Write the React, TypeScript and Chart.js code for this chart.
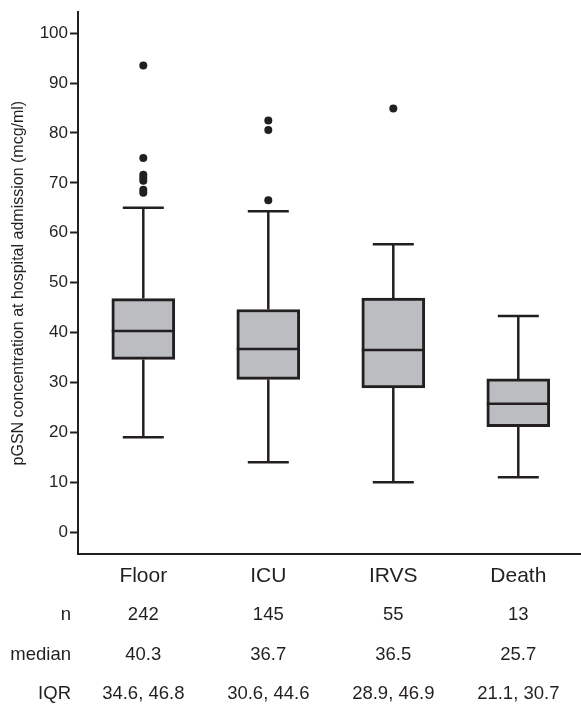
import React, { useEffect, useRef } from 'react';
import { Chart, registerables } from 'chart.js';

Chart.register(...registerables);

// ---- data ----
const categories = ['Floor', 'ICU', 'IRVS', 'Death'];
const nCounts = [242, 145, 55, 13];
const medians = [40.3, 36.7, 36.5, 25.7];
const q1 = [34.6, 30.6, 28.9, 21.1];
const q3 = [46.8, 44.6, 46.9, 30.7];
const whiskerLow = [19.0, 14.0, 10.0, 11.0];
const whiskerHigh = [65.0, 64.3, 57.7, 43.3];
const floorOutliers = [93.5, 75.0, 71.6, 71.0, 70.4, 68.6, 68.0];
const icuOutliers = [82.5, 80.6, 66.5];
const irvsOutliers = [84.9];
const deathOutliers: number[] = [];
const yTickValues = [0, 10, 20, 30, 40, 50, 60, 70, 80, 90, 100];
const rowLabels = ['n', 'median', 'IQR'];
const yTitle = 'pGSN concentration at hospital admission (mcg/ml)';

// ---- styles ----
const DARK = '#231f20';
const BOX_FILL = '#bcbdc0';
const FONT = "'Liberation Sans', Arial, Helvetica, sans-serif";
const BOX_WIDTH = 63;
const CAP_HALF = 20.5;

const outlierGroups = [floorOutliers, icuOutliers, irvsOutliers, deathOutliers];

const boxExtras = {
  id: 'boxExtras',
  beforeDatasetsDraw(chart: any) {
    const { ctx, scales } = chart;
    const x = scales.x;
    const y = scales.y;
    ctx.save();
    ctx.strokeStyle = DARK;
    ctx.lineWidth = 2.5;
    ctx.lineCap = 'butt';
    categories.forEach((_, i) => {
      const cx = x.getPixelForValue(i);
      const yq1 = y.getPixelForValue(q1[i]);
      const yq3 = y.getPixelForValue(q3[i]);
      const yLo = y.getPixelForValue(whiskerLow[i]);
      const yHi = y.getPixelForValue(whiskerHigh[i]);
      ctx.beginPath();
      ctx.moveTo(cx, yq3);
      ctx.lineTo(cx, yHi);
      ctx.moveTo(cx - CAP_HALF, yHi);
      ctx.lineTo(cx + CAP_HALF, yHi);
      ctx.moveTo(cx, yq1);
      ctx.lineTo(cx, yLo);
      ctx.moveTo(cx - CAP_HALF, yLo);
      ctx.lineTo(cx + CAP_HALF, yLo);
      ctx.stroke();
    });
    ctx.restore();
  },
  afterDatasetsDraw(chart: any) {
    const { ctx, scales } = chart;
    const x = scales.x;
    const y = scales.y;
    ctx.save();
    ctx.strokeStyle = DARK;
    ctx.lineWidth = 2.5;
    categories.forEach((_, i) => {
      const cx = x.getPixelForValue(i);
      const ym = y.getPixelForValue(medians[i]);
      ctx.beginPath();
      ctx.moveTo(cx - BOX_WIDTH / 2, ym);
      ctx.lineTo(cx + BOX_WIDTH / 2, ym);
      ctx.stroke();
    });
    ctx.restore();
  },
  afterDraw(chart: any) {
    const { ctx, scales, chartArea } = chart;
    const x = scales.x;
    const bottom = chartArea.bottom;
    const rowOffsets = [61, 101, 140];
    const rows = [
      nCounts.map((v) => String(v)),
      medians.map((v) => v.toFixed(1)),
      q1.map((v, i) => `${v.toFixed(1)}, ${q3[i].toFixed(1)}`),
    ];
    ctx.save();
    ctx.fillStyle = DARK;
    ctx.font = `18.5px ${FONT}`;
    ctx.textBaseline = 'middle';
    rows.forEach((row, r) => {
      const ty = bottom + rowOffsets[r];
      ctx.textAlign = 'right';
      ctx.fillText(rowLabels[r], chartArea.left - 7, ty);
      ctx.textAlign = 'center';
      row.forEach((txt, i) => {
        ctx.fillText(txt, x.getPixelForValue(i), ty);
      });
    });
    ctx.restore();
  },
};

export default function App() {
  const canvasRef = useRef<HTMLCanvasElement | null>(null);

  useEffect(() => {
    document.body.style.margin = '0';
    const canvas = canvasRef.current;
    if (!canvas) return;

    const boxData = categories.map((_, i) => ({ x: i, y: [q1[i], q3[i]] }));
    const outlierData: { x: number; y: number }[] = [];
    outlierGroups.forEach((grp, i) => grp.forEach((v) => outlierData.push({ x: i, y: v })));

    const chart = new Chart(canvas, {
      type: 'bar',
      data: {
        datasets: [
          {
            type: 'bar',
            data: boxData as any,
            backgroundColor: BOX_FILL,
            borderColor: DARK,
            borderWidth: 3,
            borderSkipped: false,
            barThickness: BOX_WIDTH,
          } as any,
          {
            type: 'scatter',
            data: outlierData,
            pointRadius: 4,
            pointBackgroundColor: DARK,
            pointBorderWidth: 0,
            showLine: false,
          } as any,
        ],
      },
      options: {
        animation: false,
        responsive: false,
        maintainAspectRatio: false,
        layout: { autoPadding: false, padding: { top: 12, left: 0, right: 0, bottom: 0 } },
        plugins: {
          legend: { display: false },
          tooltip: { enabled: false },
        },
        scales: {
          x: {
            type: 'linear',
            offset: false,
            min: -0.5224,
            max: 3.5016,
            afterBuildTicks: (s: any) => {
              s.ticks = categories.map((_, i) => ({ value: i }));
            },
            afterFit: (s: any) => {
              s.height = 151;
              s.paddingRight = 0;
            },
            grid: { display: false, drawTicks: false, offset: false },
            border: { display: true, color: DARK, width: 2 },
            ticks: {
              padding: 10,
              color: DARK,
              font: { family: FONT, size: 21 },
              maxRotation: 0,
              autoSkip: false,
              callback: (v: any) => categories[Math.round(Number(v))] ?? '',
            },
          },
          y: {
            type: 'linear',
            min: -4.4,
            max: 104.2,
            afterBuildTicks: (s: any) => {
              s.ticks = yTickValues.map((v) => ({ value: v }));
            },
            afterFit: (s: any) => {
              s.width = 78;
            },
            grid: {
              display: true,
              drawOnChartArea: false,
              drawTicks: true,
              tickLength: 8,
              tickWidth: 2,
              tickColor: DARK,
            },
            border: { display: true, color: DARK, width: 2 },
            ticks: {
              padding: 2,
              color: DARK,
              font: { family: FONT, size: 17 },
              autoSkip: false,
            },
            title: {
              display: true,
              text: yTitle,
              color: DARK,
              font: { family: FONT, size: 16 },
              padding: { top: 9, bottom: 0 },
            },
          },
        },
      } as any,
      plugins: [boxExtras],
    });

    return () => {
      chart.destroy();
    };
  }, []);

  return (
    <div style={{ width: 581, height: 705, background: '#ffffff' }}>
      <canvas ref={canvasRef} width={581} height={705} style={{ display: 'block' }} />
    </div>
  );
}
